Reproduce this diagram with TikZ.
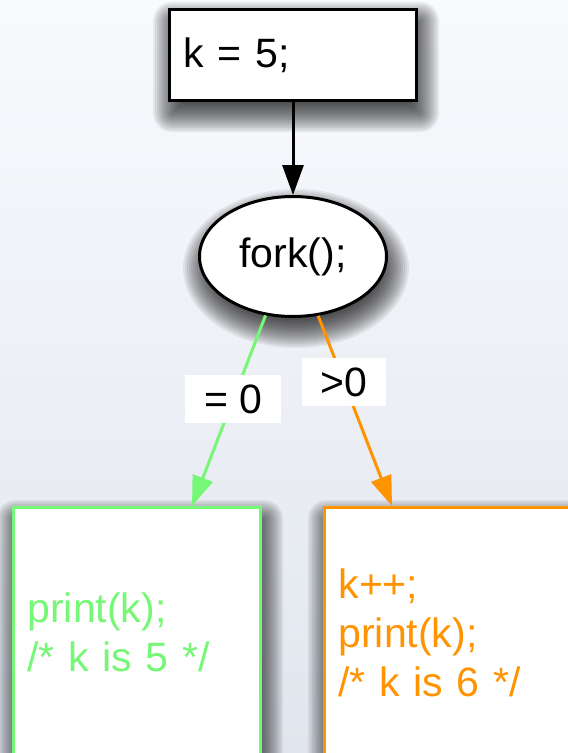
\documentclass[tikz,border=0pt]{standalone}
\usepackage{fontspec}
\setmainfont{Liberation Sans}
\usetikzlibrary{arrows.meta,positioning,shapes.geometric}

\definecolor{zerogreen}{RGB}{118,247,118}
\definecolor{childorange}{RGB}{255,147,0}
\definecolor{bgtop}{RGB}{248,250,253}
\definecolor{bgbottom}{RGB}{225,230,238}

\pgfdeclarelayer{background}
\pgfsetlayers{background,main}

\tikzset{
  stmt/.style={draw,line width=3pt,fill=white,align=left,
      inner xsep=14pt,text width=219pt},
  call/.style={ellipse,draw,line width=3pt,fill=white,
      minimum width=187pt,minimum height=120pt,inner sep=2pt},
  branch/.style={stmt,minimum height=250pt},
  flow/.style={line width=3pt,-{Triangle[length=30pt,width=21pt]}},
  cond/.style={fill=white,text=black,inner xsep=19pt,inner ysep=4pt,minimum height=48pt},
  shadowtint/.style={fill=black,fill opacity=0.065}
}

\begin{document}
\begin{tikzpicture}[x=1pt,y=-1pt,font=\fontsize{41}{49}\selectfont]
  \useasboundingbox (0,0) rectangle (568,753);
  \clip (0,0) rectangle (568,753);

  % statements
  \node[stmt,minimum height=91pt] (init) at (293,55) {k = 5;};
  \node[call,below=93pt of init] (fork) {fork();};
  \node[branch,draw=zerogreen,text=zerogreen] (child) at (137,632.5)
    {print(k);\\/* k is 5 */};
  \node[branch,draw=childorange,text=childorange] (parent) at (448,632.5)
    {k++;\\print(k);\\/* k is 6 */};

  % control flow
  \draw[flow] (init) -- (fork);
  \draw[flow,zerogreen] (fork.245) -- node[cond,pos=0.44] (iszero) {= 0}
    ([xshift=55pt]child.north);
  \draw[flow,childorange] (fork.293) -- node[cond,pos=0.35] (ispos) {>0}
    ([xshift=-56pt]parent.north);

  % backdrop and soft shadows, stacked from -18pt to +18pt around each shape
  \begin{pgfonlayer}{background}
    \shade[top color=bgtop,bottom color=bgbottom] (0,0) rectangle (568,753);
    \foreach \nd in {init,child,parent}{
      \foreach \r in {-18,-16,...,18}{
        \pgfmathsetmacro\rc{max(\r,0)+1}
        \pgfmathsetmacro\lx{3-\r}
        \pgfmathsetmacro\ly{-12-\r}
        \pgfmathsetmacro\hx{3+\r}
        \pgfmathsetmacro\hy{-12+\r}
        \fill[shadowtint,rounded corners=\rc pt]
          ([xshift=\lx pt,yshift=\ly pt]\nd.south west) rectangle
          ([xshift=\hx pt,yshift=\hy pt]\nd.north east);
      }
    }
    \foreach \r in {-18,-16,...,18}{
      \pgfmathsetmacro\rx{95+\r}
      \pgfmathsetmacro\ry{61.5+\r}
      \fill[shadowtint] ([xshift=3pt,yshift=-12pt]fork.center)
        ellipse [x radius=\rx pt,y radius=\ry pt];
    }
  \end{pgfonlayer}
\end{tikzpicture}
\end{document}
